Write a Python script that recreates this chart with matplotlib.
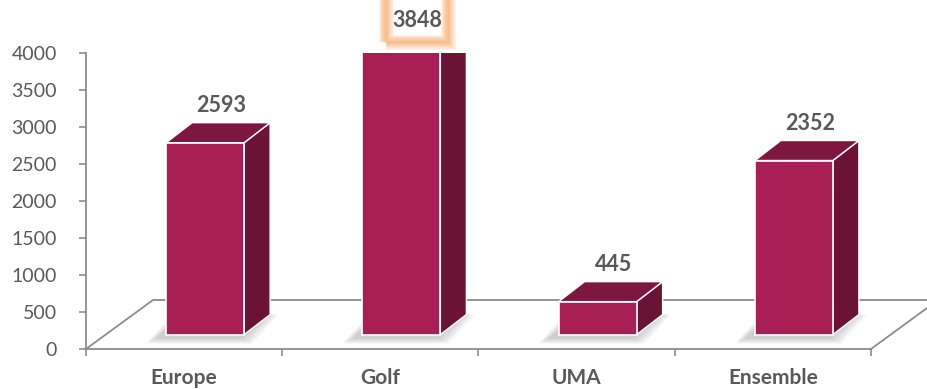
import numpy as np
import matplotlib.pyplot as plt
from matplotlib.patches import Polygon, Rectangle

plt.rcParams['font.family'] = ['Lato', 'DejaVu Sans']

# donnees
categories = ['Europe', 'Golf', 'UMA', 'Ensemble']
values = [2593, 3848, 445, 2352]

# couleurs des faces
c_front = '#A81F55'
c_top = '#7D1741'
c_side = '#6A1334'
c_axis = '#8C8C8C'
c_text = '#595959'

fig = plt.figure(figsize=(9.28, 3.89), dpi=100)
ax = fig.add_axes([86 / 928, 40 / 389, 785 / 928, 296 / 389])
ax.set_xlim(-0.5, 3.5)
ax.set_ylim(0, 4000)

# conversion pixels -> unites de donnees
px_x = 1 / 196.25
px_y = 4000 / 296

# sol en perspective
fdx, fdy = 67 * px_x, 49 * px_y
ax.plot([-0.5, -0.5 + fdx, 3.5 + fdx, 3.5], [0, fdy, fdy, 0],
        color=c_axis, lw=1.3, clip_on=False, zorder=1)

# barres 3D
base = 195
w = 78 * px_x
off = 21 * px_x
ddx, ddy = 26 * px_x, 20 * px_y
for i, v in enumerate(values):
    x0 = i + off - w / 2
    x1 = x0 + w
    y0, y1 = base, base + v
    # ombre
    for k in range(6):
        e = (6 - k) * 2
        sh = Polygon([(x0 - (8 + e) * px_x, y0 - (3 + e / 2) * px_y),
                      (x1 + (e - 4) * px_x, y0 - (3 + e / 2) * px_y),
                      (x1 + ddx + (e - 4) * px_x, y0 + ddy),
                      (x0 + ddx - (8 + e) * px_x, y0 + ddy)],
                     closed=True, facecolor='#7F7F7F', edgecolor='none',
                     alpha=0.07, zorder=2)
        ax.add_patch(sh)
    side = Polygon([(x1, y0), (x1 + ddx, y0 + ddy), (x1 + ddx, y1 + ddy), (x1, y1)],
                   closed=True, facecolor=c_side, edgecolor='white', lw=1, zorder=3)
    top = Polygon([(x0, y1), (x1, y1), (x1 + ddx, y1 + ddy), (x0 + ddx, y1 + ddy)],
                  closed=True, facecolor=c_top, edgecolor='white', lw=1, zorder=3)
    front = Rectangle((x0, y0), w, v, facecolor=c_front, edgecolor='white',
                      lw=1.2, zorder=4)
    ax.add_patch(side)
    ax.add_patch(top)
    ax.add_patch(front)

    # etiquette
    lx = i + off + 16 * px_x
    if v == max(values):
        ly = y1 + ddy + 9 * px_y
        # cadre lumineux orange autour de l'etiquette
        bx0, bx1 = lx - 31 * px_x, lx + 31 * px_x
        by0 = ly - 21 * px_y
        for k in range(7):
            r = Rectangle((bx0, by0), bx1 - bx0, 1500, fill=False,
                          edgecolor='#F79646', lw=1 + k * 1.6,
                          alpha=0.12, clip_on=False, zorder=5)
            ax.add_patch(r)
    else:
        ly = y1 + ddy + 17 * px_y
    ax.text(lx, ly, str(v), ha='center', va='center', fontsize=15.5,
            fontweight='bold', color=c_text, zorder=6, clip_on=False)

# axes
for s in ['top', 'right']:
    ax.spines[s].set_visible(False)
for s in ['left', 'bottom']:
    ax.spines[s].set_color(c_axis)
    ax.spines[s].set_linewidth(1.3)
    ax.spines[s].set_zorder(1)

ax.set_yticks(np.arange(0, 4001, 500))
ax.tick_params(axis='y', length=5, width=1.2, color=c_axis, pad=16,
               labelsize=14, labelcolor=c_text)
ax.set_xticks(np.arange(-0.5, 3.6, 1))
ax.set_xticklabels([])
ax.tick_params(axis='x', which='major', length=5, width=1.2, color=c_axis)
ax.set_xticks(np.arange(len(categories)), minor=True)
ax.set_xticklabels(categories, minor=True, fontweight='bold')
ax.tick_params(axis='x', which='minor', length=0, pad=14, labelsize=15,
               labelcolor=c_text)
ax.patch.set_alpha(0)

fig.savefig('out.png', dpi=100)
